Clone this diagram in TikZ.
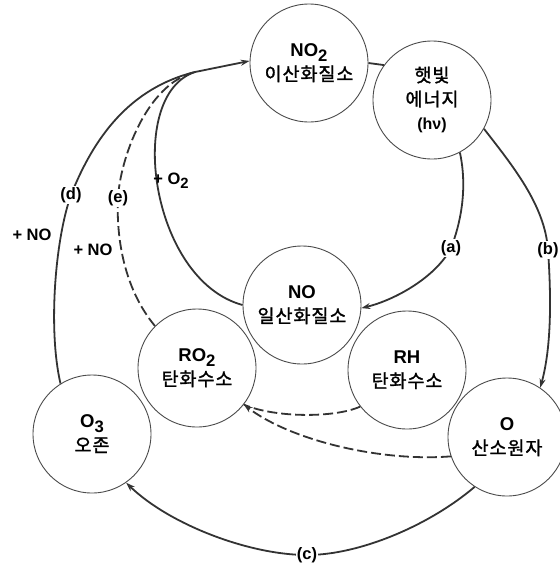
\documentclass[tikz,border=0pt]{standalone}
\usepackage{fontspec}
\usepackage{graphicx}
\setmainfont{Liberation Sans}
\newfontfamily\kr{Noto Sans CJK KR}[FakeBold=1.5, LetterSpace=5]
\usetikzlibrary{arrows.meta}

\newcommand\chemsub[1]{\raisebox{-0.45ex}{\scalebox{0.9}{#1}}}

\tikzset{
    species/.style={circle, draw=black!70, line width=0.9pt, fill=white,
        minimum size=118pt, inner sep=0pt, align=center,
        font=\fontsize{18.5}{24}\selectfont},
    reaction/.style={line width=1.8pt, draw=black!80},
    dashedline/.style={reaction, dash pattern=on 10pt off 4pt},
    arrowed/.style={-{Stealth[length=9pt,width=6pt]}},
    lbl/.style={font=\bfseries\fontsize{16.5}{16.5}\selectfont, fill=white, inner sep=1pt},
    note/.style={font=\bfseries\fontsize{16.5}{16.5}\selectfont, inner sep=1pt}
}

\begin{document}
\begin{tikzpicture}[x=1pt,y=-1pt]

    % Page frame
    \fill[white] (0,0) rectangle (560,566);
    \useasboundingbox (0,0) rectangle (560,566);

    % Species circles
    \node[species] (no2)   at (309,63)  {\textbf{NO\chemsub{2}}\\{\kr 이산화질소}};
    \node[species] (sun)   at (432,100) {{\kr 햇빛}\\{\kr 에너지}\\{\bfseries\fontsize{16}{20}\selectfont (hν)}};
    \node[species] (no)    at (302,305) {\textbf{NO}\\{\kr 일산화질소}};
    \node[species] (rh)    at (407,370) {\textbf{RH}\\{\kr 탄화수소}};
    \node[species] (ro2)   at (197,368) {\textbf{RO\chemsub{2}}\\{\kr 탄화수소}};
    \node[species] (o3)    at (92,434)  {\textbf{O\chemsub{3}}\\{\kr 오존}};
    \node[species] (oatom) at (507,437) {\textbf{O}\\{\kr 산소원자}};

    % Short link between NO2 and sunlight
    \draw[reaction] (no2.east) -- (sun.144);

    % Point where the three return paths meet
    \coordinate (join) at (195,72);

    % (a) photolysis: sunlight -> NO
    \draw[reaction, arrowed] (sun.-62) .. controls (468,190) and (460,225) .. (451,248)
        .. controls (436,277) and (395,300) .. (no.-3);

    % (b) sunlight -> O
    \draw[reaction, arrowed] (sun.-29) .. controls (512,165) and (545,205) .. (548,250)
        .. controls (551,293) and (552,345) .. (oatom.56);

    % (c) O -> O3
    \draw[reaction, arrowed] (oatom.-123) .. controls (430,525) and (360,555) .. (307,555)
        .. controls (250,555) and (170,525) .. (o3.-55);

    % (d) O3 + NO -> NO2
    \draw[reaction] (o3.122) .. controls (48,330) and (55,240) .. (71,195)
        .. controls (94,137) and (130,88) .. (join);

    % (e) RO2 + NO -> NO2
    \draw[dashedline] (ro2.135) .. controls (125,290) and (116,240) .. (118,198)
        .. controls (120,160) and (146,84) .. (join);

    % NO + O2 -> NO2
    \draw[reaction] (no.180) .. controls (150,280) and (125,95) .. (join);

    % Shared arrow into NO2
    \draw[reaction, arrowed] (join) -- (no2.178);

    % Hydrocarbon paths into RO2
    \draw[dashedline] (rh.-142) .. controls (335,418) and (275,418) .. (ro2.-38);
    \draw[dashedline, arrowed] (oatom.-161) .. controls (380,462) and (290,440) .. (ro2.-38);

    % Path labels
    \node[lbl] (alab) at (451,248) {(a)};
    \node[lbl] (blab) at (548,250) {(b)};
    \node[lbl] (clab) at (307,555) {(c)};
    \node[lbl] (dlab) at (71,195)  {(d)};
    \node[lbl] (elab) at (118,198) {(e)};
    \node[note] (dno) at (32,235)  {+ NO};
    \node[note] (eno) at (93,250)  {+ NO};
    \node[note] (otwo) at (171,181) {+ O\chemsub{2}};

\end{tikzpicture}
\end{document}
